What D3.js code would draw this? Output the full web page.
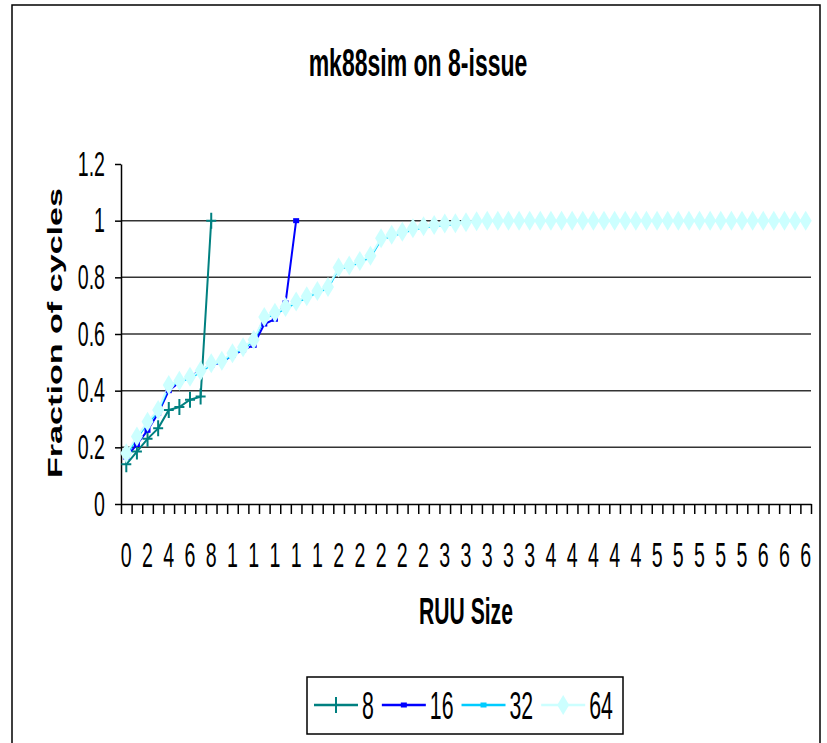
<!DOCTYPE html>
<html>
<head>
<meta charset="utf-8">
<script src="https://cdn.jsdelivr.net/npm/d3@7"></script>
<style>
  body { margin: 0; background: #fff; }
  svg { display: block; font-family: "Liberation Sans", Arial, sans-serif; }
</style>
</head>
<body>
<div class="chart"></div>
<script>
// x categories: RUU size 0..64
var ruuSize = [0, 1, 2, 3, 4, 5, 6, 7, 8, 9, 10, 11, 12, 13, 14, 15, 16, 17, 18, 19,
    20, 21, 22, 23, 24, 25, 26, 27, 28, 29, 30, 31, 32, 33, 34, 35, 36, 37, 38, 39,
    40, 41, 42, 43, 44, 45, 46, 47, 48, 49, 50, 51, 52, 53, 54, 55, 56, 57, 58, 59,
    60, 61, 62, 63, 64];

// what excel shows under every 2nd category (clipped to one char)
var xTickLabels = ["0", "2", "4", "6", "8", "1", "1", "1", "1", "1", "2", "2", "2", "2", "2",
    "3", "3", "3", "3", "3", "4", "4", "4", "4", "4", "5", "5", "5", "5", "5", "6", "6", "6"];

var yTicks = [0, 0.2, 0.4, 0.6, 0.8, 1, 1.2];
var yTickLabels = ["0", "0.2", "0.4", "0.6", "0.8", "1", "1.2"];

var seriesNames = ["8", "16", "32", "64"];

// fraction of cycles, one value per RUU size
var frac8 = [0.14, 0.185, 0.23, 0.267, 0.332, 0.342, 0.368, 0.379, 1.0];
var frac16 = [0.165, 0.21, 0.26, 0.32, 0.40, 0.43, 0.447, 0.473, 0.49, 0.50, 0.525, 0.544,
    0.56, 0.635, 0.652, 0.71, 1.0];
var frac32 = [0.172, 0.232, 0.284, 0.326, 0.414, 0.43, 0.444, 0.465, 0.492, 0.501, 0.527,
    0.548, 0.575, 0.655, 0.67, 0.69, 0.71, 0.728, 0.747, 0.761, 0.83, 0.837, 0.853, 0.871,
    0.933, 0.945, 0.956, 0.968, 0.975, 0.98, 0.985, 0.987, 1.0];
var frac64 = [0.179, 0.238, 0.29, 0.332, 0.42, 0.435, 0.449, 0.47, 0.497, 0.506, 0.532,
    0.553, 0.58, 0.66, 0.675, 0.695, 0.715, 0.733, 0.752, 0.766, 0.835, 0.842, 0.858, 0.876,
    0.938, 0.95, 0.961, 0.973, 0.98, 0.985, 0.99, 0.991, 0.994, 0.998, 1, 1, 1, 1, 1, 1,
    1, 1, 1, 1, 1, 1, 1, 1, 1, 1, 1, 1, 1, 1, 1, 1, 1, 1, 1, 1, 1, 1, 1, 1, 1];

var width = 827,
    height = 743,
    margin = ({ top: 164, right: 16, bottom: 239, left: 121 })

var colors = ["#008080", "#0000ff", "#00ccff", "#ccffff"];
var markers = ["plus", "square", "square", "diamond"];
var series = [frac8, frac16, frac32, frac64];

// the source picture is squeezed sideways, so texts get narrowed
function condense(sel, k) {
    sel.each(function() {
        var w = this.getComputedTextLength();
        d3.select(this).attr("textLength", w * k).attr("lengthAdjust", "spacingAndGlyphs");
    });
}

function marker(g, type, color) {
    if (type == "plus") {
        g.append("path").attr("d", "M-5,0H5M0,-8V8")
            .attr("stroke", color).attr("stroke-width", 2).attr("fill", "none");
    } else if (type == "square") {
        g.append("rect").attr("x", -3).attr("y", -2.5).attr("width", 6).attr("height", 5)
            .attr("fill", color);
    } else {
        g.append("path").attr("d", "M0,-10L6,0L0,10L-6,0Z").attr("fill", color);
    }
}

var svg = d3.select(".chart").append("svg")
    .attr("width", width)
    .attr("height", height);

svg.append("rect")
    .attr("x", 12).attr("y", 5)
    .attr("width", 808).attr("height", 770)
    .attr("fill", "#fff").attr("stroke", "#000").attr("stroke-width", 1.5);

var x = d3.scaleBand()
    .domain(ruuSize)
    .range([margin.left, width - margin.right]);

var xEdge = d3.scaleLinear()
    .domain([0, ruuSize.length])
    .range([margin.left, width - margin.right]);

var y = d3.scaleLinear()
    .domain([0, 1.2])
    .range([height - margin.bottom, margin.top]);

// gridlines
svg.append("g")
    .selectAll("line")
    .data(yTicks.filter(d => d > 0 && d < 1.2))
    .join("line")
    .attr("x1", margin.left).attr("x2", width - margin.right)
    .attr("y1", d => y(d)).attr("y2", d => y(d))
    .attr("stroke", "#333").attr("stroke-width", 1.5);

// y axis
var yAxis = svg.append("g")
    .attr("transform", `translate(${margin.left},0)`)
    .call(d3.axisLeft(y)
        .tickValues(yTicks)
        .tickSize(6)
        .tickSizeOuter(0)
        .tickPadding(10)
        .tickFormat((d, i) => yTickLabels[i]));
yAxis.selectAll("path, line").attr("stroke", "#000").attr("stroke-width", 1.5);
yAxis.selectAll("text").attr("font-size", 35).attr("font-family", null).attr("fill", "#000")
    .call(condense, 0.56);

// x axis: tick marks between categories
var xTicks = svg.append("g")
    .attr("transform", `translate(0,${y(0)})`)
    .call(d3.axisBottom(xEdge)
        .tickValues(d3.range(0, ruuSize.length + 1))
        .tickSize(10)
        .tickSizeOuter(0)
        .tickFormat(""));
xTicks.selectAll("path, line").attr("stroke", "#000").attr("stroke-width", 1.5);

// x axis labels
var xLabels = svg.append("g")
    .attr("transform", `translate(0,${y(0)})`)
    .call(d3.axisBottom(x)
        .tickValues(ruuSize.filter((d, i) => i % 2 == 0))
        .tickSize(0)
        .tickPadding(38)
        .tickFormat((d, i) => xTickLabels[i]));
xLabels.select(".domain").remove();
xLabels.selectAll("text").attr("font-size", 35).attr("font-family", null).attr("fill", "#000")
    .call(condense, 0.56);

// lines first, then markers (excel order)
var line = d3.line()
    .x((d, i) => x(ruuSize[i]) + x.bandwidth() / 2)
    .y(d => y(d));

series.forEach(function(s, k) {
    svg.append("path")
        .datum(s)
        .attr("d", line)
        .attr("fill", "none")
        .attr("stroke", colors[k])
        .attr("stroke-width", 2);
});

series.forEach(function(s, k) {
    svg.append("g")
        .selectAll("g")
        .data(s)
        .join("g")
        .attr("transform", (d, i) => `translate(${x(ruuSize[i]) + x.bandwidth() / 2},${y(d)})`)
        .each(function() { marker(d3.select(this), markers[k], colors[k]); });
});

// titles
svg.append("text")
    .attr("x", 418).attr("y", 76)
    .attr("text-anchor", "middle")
    .attr("font-size", 39).attr("font-weight", "bold")
    .text("mk88sim on 8-issue")
    .call(condense, 0.59);

svg.append("text")
    .attr("x", (margin.left + width - margin.right) / 2).attr("y", 624)
    .attr("text-anchor", "middle")
    .attr("font-size", 37).attr("font-weight", "bold")
    .text("RUU Size")
    .call(condense, 0.57);

svg.append("text")
    .attr("transform", "translate(62,333) scale(0.7,1) rotate(-90)")
    .attr("text-anchor", "middle")
    .attr("font-size", 29).attr("font-weight", "bold")
    .attr("textLength", 290).attr("lengthAdjust", "spacingAndGlyphs")
    .text("Fraction of cycles");

// legend
var legend = svg.append("g");
legend.append("rect")
    .attr("x", 307).attr("y", 677)
    .attr("width", 316).attr("height", 57)
    .attr("fill", "#fff").attr("stroke", "#000").attr("stroke-width", 1.5);

var cx = 314, ly = 705;
seriesNames.forEach(function(name, k) {
    var item = legend.append("g").attr("transform", `translate(${cx},${ly})`);
    item.append("line").attr("x1", 0).attr("x2", 44)
        .attr("stroke", colors[k]).attr("stroke-width", 2.5);
    var m = item.append("g").attr("transform", "translate(22,0)");
    marker(m, markers[k], colors[k]);
    var t = item.append("text")
        .attr("x", 48).attr("dy", "0.36em")
        .attr("font-size", 38)
        .text(name);
    var w = t.node().getComputedTextLength() * 0.56;
    t.attr("textLength", w).attr("lengthAdjust", "spacingAndGlyphs");
    cx += 48 + w + 8;
});
</script>
</body>
</html>
